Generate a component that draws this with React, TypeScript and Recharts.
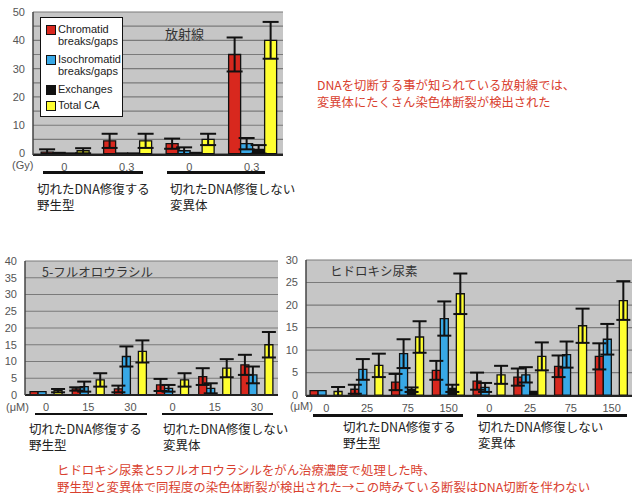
import React from "react";
import { BarChart, Bar, XAxis, YAxis, CartesianGrid, ErrorBar, Legend } from "recharts";

// 放射線 (Gy)
const GY_CATS = ["0", "0.3", "0", "0.3"];
const GY_CHROMATID = [0.5, 4.5, 3.5, 35];
const GY_CHROMATID_ERR = [1, 2.5, 1.8, 6];
const GY_ISO = [0.4, 0.2, 1, 3.5];
const GY_ISO_ERR = [0, 0, 1.2, 2];
const GY_EXCH = [0.2, 0.2, 0.4, 1.5];
const GY_EXCH_ERR = [0, 0, 0, 1.5];
const GY_TOTAL = [1, 4.5, 5, 40];
const GY_TOTAL_ERR = [0.9, 2.5, 2, 6.5];

// 5-フルオロウラシル (μM)
const FU_CATS = ["0", "15", "30", "0", "15", "30"];
const FU_CHROMATID = [1, 1.8, 1.8, 3, 5.5, 9];
const FU_CHROMATID_ERR = [0, 0.5, 1, 1.8, 2.5, 3];
const FU_ISO = [1, 2.5, 11.5, 2, 2, 6];
const FU_ISO_ERR = [0, 1.5, 3, 1, 1.5, 2.5];
const FU_EXCH = [0, 0, 0, 0, 0, 0];
const FU_EXCH_ERR = [0, 0, 0, 0, 0, 0];
const FU_TOTAL = [1.3, 4.5, 13, 4.5, 8, 15];
const FU_TOTAL_ERR = [0.5, 2, 3.3, 2, 2.7, 3.8];

// ヒドロキシ尿素 (μM)
const HU_CATS = ["0", "25", "75", "150", "0", "25", "75", "150"];
const HU_CHROMATID = [1, 1.3, 2.9, 5.5, 3.1, 4, 6.4, 8.6];
const HU_CHROMATID_ERR = [0, 1, 1.8, 2.1, 1.9, 1.9, 2.4, 2.9];
const HU_ISO = [1, 5.7, 9.2, 17, 1.7, 4.5, 9, 12.4];
const HU_ISO_ERR = [0, 2.3, 3.2, 3.8, 1, 1.7, 2.9, 3.4];
const HU_EXCH = [0, 0, 1.2, 1.5, 0, 0.8, 0, 0];
const HU_EXCH_ERR = [0, 0, 0.5, 0.8, 0, 0, 0, 0];
const HU_TOTAL = [0.8, 6.6, 12.9, 22.5, 4.5, 8.6, 15.4, 21];
const HU_TOTAL_ERR = [1, 2.6, 3.5, 4.5, 2, 3.1, 3.8, 4.3];

const LEGEND_LABELS = [["Chromatid", "breaks/gaps"], ["Isochromatid", "breaks/gaps"], ["Exchanges"], ["Total CA"]];

const RED = "#d8281e";
const BLUE = "#38a8e6";
const BLACK = "#111111";
const YELLOW = "#ffff30";
const NOTE_RED = "#d9402e";
const JP = '"Noto Sans CJK JP", "Noto Sans", sans-serif';
const SANS = '"Liberation Sans", Arial, sans-serif';

function buildRows(cats, r, re, b, be, k, ke, y, ye) {
  return cats.map((cat, i) => ({
    cat,
    red: r[i],
    redErr: re[i],
    blue: b[i],
    blueErr: be[i],
    black: k[i],
    blackErr: ke[i],
    yellow: y[i],
    yellowErr: ye[i],
  }));
}

const gyRows = buildRows(GY_CATS, GY_CHROMATID, GY_CHROMATID_ERR, GY_ISO, GY_ISO_ERR, GY_EXCH, GY_EXCH_ERR, GY_TOTAL, GY_TOTAL_ERR);
const fuRows = buildRows(FU_CATS, FU_CHROMATID, FU_CHROMATID_ERR, FU_ISO, FU_ISO_ERR, FU_EXCH, FU_EXCH_ERR, FU_TOTAL, FU_TOTAL_ERR);
const huRows = buildRows(HU_CATS, HU_CHROMATID, HU_CHROMATID_ERR, HU_ISO, HU_ISO_ERR, HU_EXCH, HU_EXCH_ERR, HU_TOTAL, HU_TOTAL_ERR);

const SERIES = [
  { key: "red", color: RED },
  { key: "blue", color: BLUE },
  { key: "black", color: BLACK },
  { key: "yellow", color: YELLOW },
];

function renderLegend() {
  return (
    <div
      style={{
        border: "1.5px solid #111",
        background: "#fff",
        width: 83,
        height: 100,
        boxSizing: "border-box",
        padding: "5px 0 0 5px",
        fontFamily: SANS,
        fontSize: 11,
        color: "#222",
        lineHeight: "12px",
        textAlign: "left",
      }}
    >
      {LEGEND_LABELS.map((lines, i) => (
        <div key={i} style={{ display: "flex", marginBottom: i < 2 ? 6 : 4, alignItems: "flex-start" }}>
          <span
            style={{
              display: "inline-block",
              width: 8,
              height: 8,
              marginTop: 2,
              marginRight: 2,
              background: SERIES[i].color,
              border: "1.5px solid #111",
              flex: "none",
            }}
          />
          <span>
            {lines.map((l, j) => (
              <div key={j}>{l}</div>
            ))}
          </span>
        </div>
      ))}
    </div>
  );
}

function CaChart({ rows, width, height, top, right, xHeight, yWidth, yMax, yTicks, labelStep, catGap, capWidth, legend }) {
  return (
    <BarChart width={width} height={height} data={rows} margin={{ top, right, left: 0, bottom: 0 }} barGap={0} barCategoryGap={catGap}>
      <CartesianGrid vertical={false} stroke="#7a7a7a" strokeWidth={1.2} fill="#c6c6c6" />
      <XAxis
        dataKey="cat"
        height={xHeight}
        tickLine={false}
        axisLine={{ stroke: "#222", strokeWidth: 2 }}
        tick={{ fill: "#555", fontSize: 11, fontFamily: SANS }}
        tickMargin={2}
        interval={0}
        allowDuplicatedCategory
      />
      <YAxis
        width={yWidth}
        domain={[0, yMax]}
        ticks={yTicks}
        interval={0}
        tickLine={false}
        axisLine={{ stroke: "#444", strokeWidth: 1.5 }}
        tick={{ fill: "#555", fontSize: 11, fontFamily: SANS }}
        tickFormatter={(v) => (v % labelStep === 0 ? String(v) : "")}
        tickMargin={2}
      />
      <YAxis yAxisId="frame" orientation="right" width={0} domain={[0, yMax]} tick={false} tickLine={false} axisLine={{ stroke: "#8a8a8a", strokeWidth: 1.5 }} />
      {legend && (
        <Legend
          layout="vertical"
          verticalAlign="middle"
          align="center"
          content={renderLegend}
          wrapperStyle={{ position: "absolute", left: 40, top: 17, width: 83, height: 100 }}
        />
      )}
      {SERIES.map((s) => (
        <Bar key={s.key} dataKey={s.key} fill={s.color} stroke="#111" strokeWidth={1.3} isAnimationActive={false}>
          <ErrorBar dataKey={s.key + "Err"} width={capWidth} stroke="#111" strokeWidth={2} />
        </Bar>
      ))}
    </BarChart>
  );
}

const abs = (left, top, extra = {}) => ({ position: "absolute", left, top, ...extra });

function GroupLabel({ left, top, lines }) {
  return (
    <div style={abs(left, top, { fontFamily: JP, fontSize: 12.5, lineHeight: "16px", color: "#222", whiteSpace: "nowrap" })}>
      {lines.map((l, i) => (
        <div key={i}>{l}</div>
      ))}
    </div>
  );
}

function Rule({ left, top, width, thick = 3 }) {
  return <div style={abs(left, top, { width, height: thick, background: "#111" })} />;
}

export default function App() {
  const wild = ["切れたDNA修復する", "野生型"];
  const mutant = ["切れたDNA修復しない", "変異体"];
  return (
    <div style={{ position: "absolute", left: 0, top: 0, width: 640, height: 500, background: "#fff", overflow: "hidden" }}>
      {/* 放射線 */}
      <div style={abs(0, 0)}>
        <CaChart
          rows={gyRows}
          width={290}
          height={180}
          top={12}
          right={7}
          xHeight={25}
          yWidth={33}
          yMax={50}
          yTicks={[0, 5, 10, 15, 20, 25, 30, 35, 40, 45, 50]}
          labelStep={10}
          catGap="13%"
          capWidth={8}
          legend
        />
      </div>
      <div style={abs(165, 24, { fontFamily: JP, fontSize: 13, color: "#333" })}>放射線</div>
      <div style={abs(12, 159, { fontFamily: SANS, fontSize: 11, color: "#555" })}>(Gy)</div>
      <Rule left={43} top={171} width={100} />
      <Rule left={167} top={171} width={98} />
      <GroupLabel left={37} top={181} lines={wild} />
      <GroupLabel left={170} top={181} lines={mutant} />

      <div style={abs(317, 77, { fontFamily: JP, fontSize: 12.3, lineHeight: "17px", color: NOTE_RED, whiteSpace: "nowrap" })}>
        <div>DNAを切断する事が知られている放射線では、</div>
        <div>変異体にたくさん染色体断裂が検出された</div>
      </div>

      {/* 5-フルオロウラシル */}
      <div style={abs(0, 249)}>
        <CaChart
          rows={fuRows}
          width={285}
          height={168}
          top={12}
          right={7}
          xHeight={22}
          yWidth={25}
          yMax={40}
          yTicks={[0, 5, 10, 15, 20, 25, 30, 35, 40]}
          labelStep={5}
          catGap="12%"
          capWidth={7}
        />
      </div>
      <div style={abs(42, 262, { fontFamily: JP, fontSize: 12.5, color: "#333" })}>5-フルオロウラシル</div>
      <div style={abs(6, 401, { fontFamily: SANS, fontSize: 11, color: "#555" })}>(μM)</div>
      <Rule left={35} top={413} width={112} thick={2} />
      <Rule left={162} top={413} width={111} thick={2} />
      <GroupLabel left={29} top={421} lines={wild} />
      <GroupLabel left={163} top={421} lines={mutant} />

      {/* ヒドロキシ尿素 */}
      <div style={abs(285, 250)}>
        <CaChart
          rows={huRows}
          width={355}
          height={168}
          top={10}
          right={8}
          xHeight={22}
          yWidth={21}
          yMax={30}
          yTicks={[0, 5, 10, 15, 20, 25, 30]}
          labelStep={5}
          catGap="10%"
          capWidth={7}
        />
      </div>
      <div style={abs(330, 261, { fontFamily: JP, fontSize: 12.5, color: "#333" })}>ヒドロキシ尿素</div>
      <div style={abs(290, 400, { fontFamily: SANS, fontSize: 11, color: "#555" })}>(μM)</div>
      <Rule left={313} top={414} width={150} />
      <Rule left={477} top={414} width={150} />
      <GroupLabel left={343} top={419} lines={wild} />
      <GroupLabel left={478} top={419} lines={mutant} />

      <div style={abs(57, 462, { fontFamily: JP, fontSize: 12.4, lineHeight: "17px", color: NOTE_RED, whiteSpace: "nowrap" })}>
        <div>ヒドロキシ尿素と5フルオロウラシルをがん治療濃度で処理した時、</div>
        <div>野生型と変異体で同程度の染色体断裂が検出された→この時みている断裂はDNA切断を伴わない</div>
      </div>
    </div>
  );
}
